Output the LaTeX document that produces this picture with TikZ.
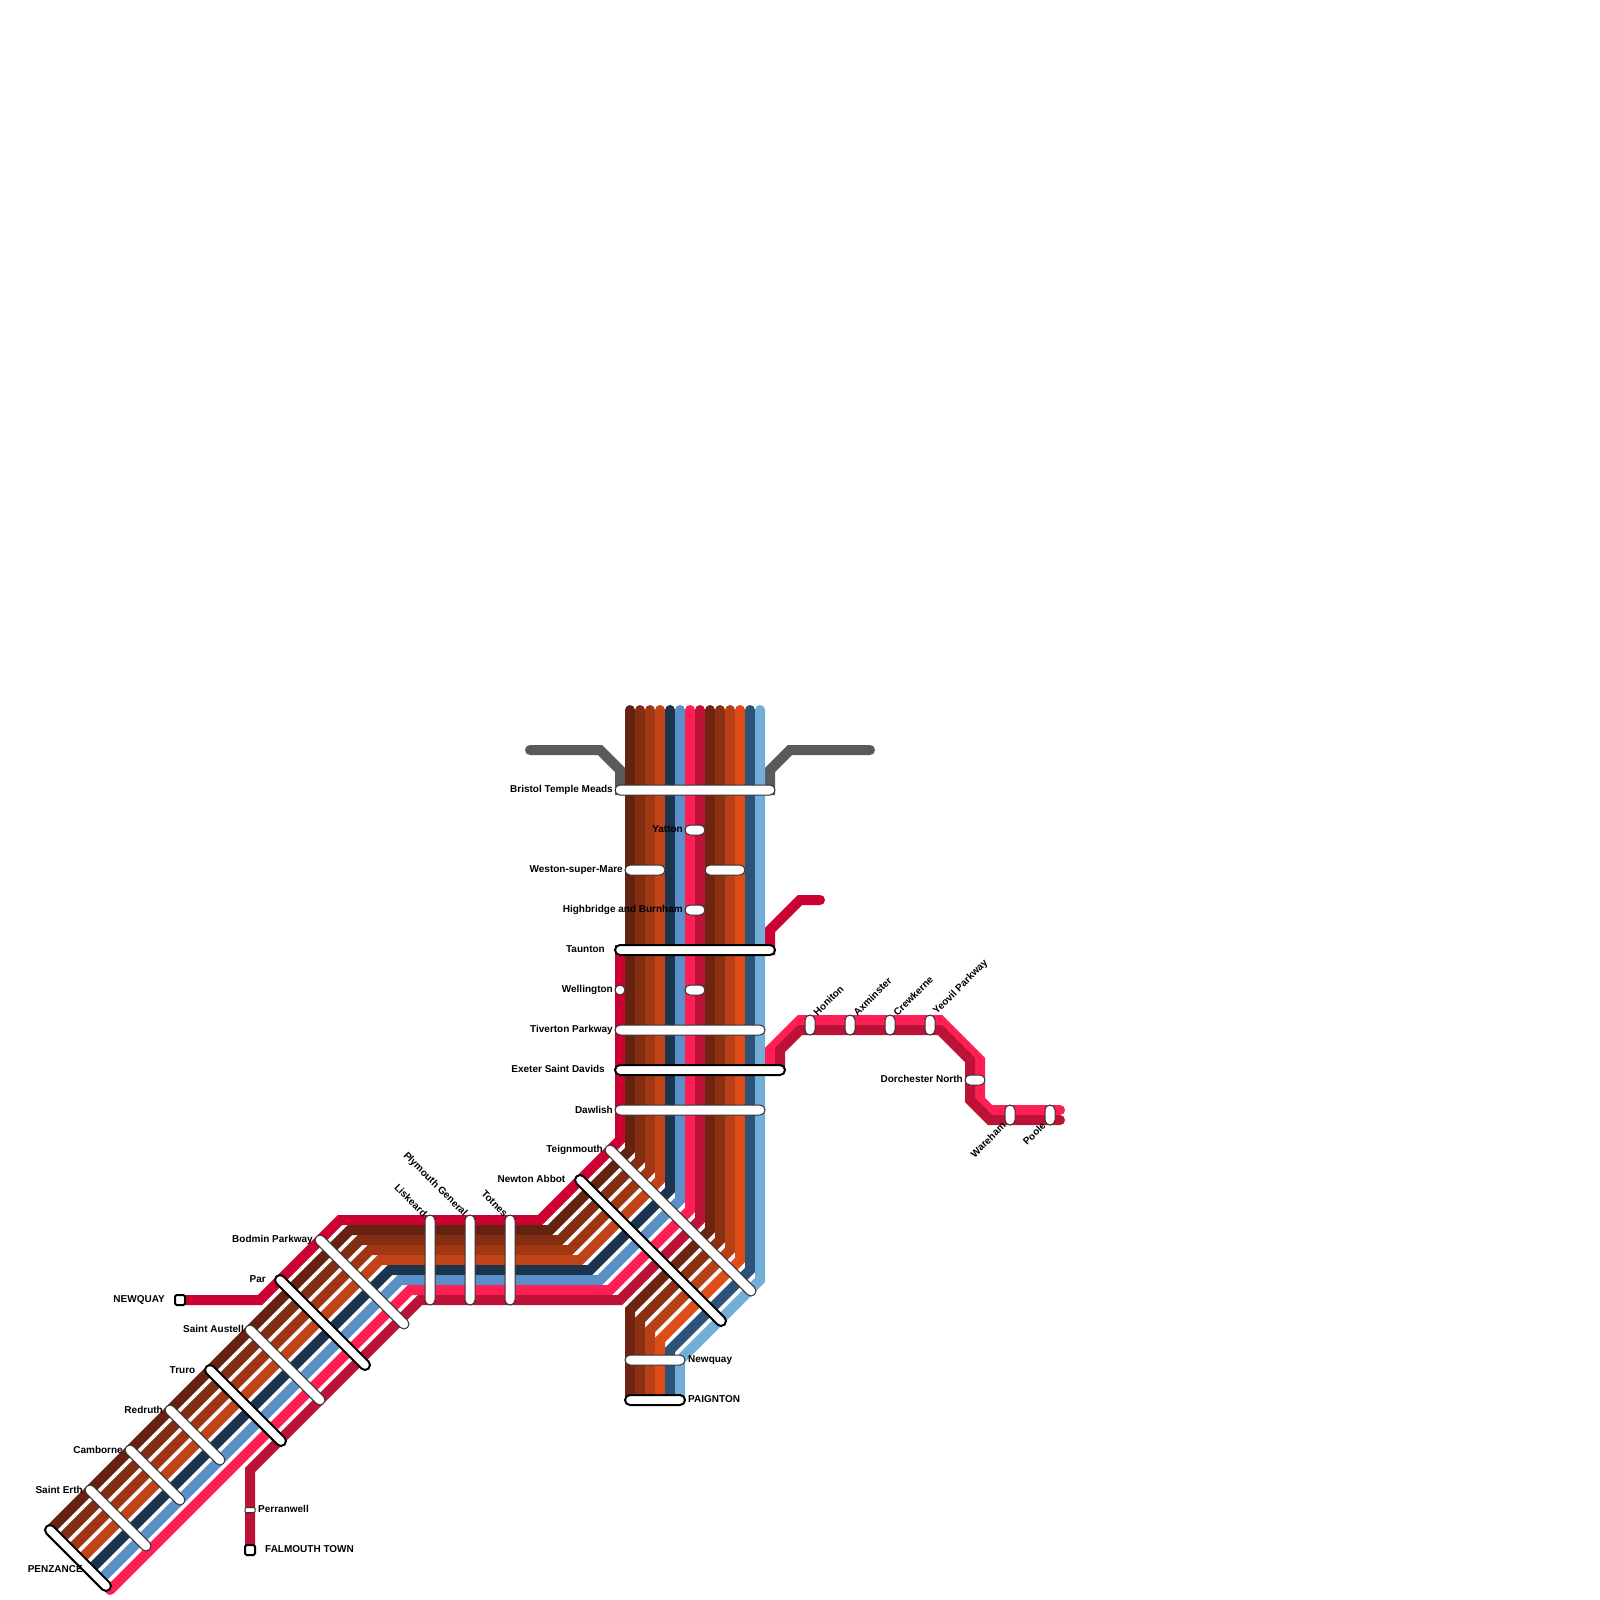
\documentclass[tikz,border=0pt]{standalone}
\usepackage{fontspec}
\usetikzlibrary{shapes.misc}
\setmainfont{Liberation Sans}
\definecolor{crimA}{HTML}{CC0033}
\definecolor{crimB}{HTML}{BC1238}
\definecolor{greyl}{HTML}{5A5A5A}
\definecolor{pinkl}{HTML}{FF1F55}
\definecolor{navyl}{HTML}{1A334F}
\definecolor{bluel}{HTML}{5B8FC8}
\definecolor{brA}{HTML}{662210}
\definecolor{brB}{HTML}{832E12}
\definecolor{brC}{HTML}{A03612}
\definecolor{brD}{HTML}{C24317}
\definecolor{brE}{HTML}{6E2410}
\definecolor{brF}{HTML}{8C3012}
\definecolor{brG}{HTML}{B84016}
\definecolor{brH}{HTML}{DE4D18}
\definecolor{navyk}{HTML}{2B5279}
\definecolor{bluek}{HTML}{72AED8}
\tikzset{
  metro/.style={line width=10pt,line cap=round,line join=miter,miter limit=10},
  stnbase/.style={rounded rectangle,fill=white,draw=black,inner sep=0pt,outer sep=0pt,minimum height=10pt},
  thinstn/.style={stnbase,line width=1pt,draw=black!80},
  heavystn/.style={stnbase,line width=2pt},
  lab/.style={font=\bfseries\fontsize{10}{12}\selectfont,text=black,inner sep=0pt},
  termbox/.style={rectangle,rounded corners=1.5pt,fill=white,draw=black,line width=2pt,inner sep=0pt,minimum width=10pt,minimum height=10pt},
}
\newcommand{\stnbar}[6]{%
  \node[#1,minimum width={veclen(#5-#3,#6-#4)+10},rotate={-atan2(#6-#4,#5-#3)}] (#2) at ({(#3+#5)/2},{(#4+#6)/2}) {};%
}
\begin{document}
\begin{tikzpicture}[x=1pt,y=-1pt]
\useasboundingbox (0,0) rectangle (1600,1600);
\fill[white] (0,0) rectangle (1600,1600);
% lines
\draw[metro,crimA] (180,1300) -- (260,1300) -- (340,1220) -- (540,1220) -- (620,1140) -- (620,950) -- (770,950) -- (770,930) -- (800,900) -- (820,900);
\draw[metro,greyl] (530,750) -- (600,750) -- (620,770) -- (620,790) -- (770,790) -- (770,770) -- (790,750) -- (870,750);
\foreach \k/\c in {1/brA,2/brB,3/brC,4/brD,5/navyl,6/bluel,7/pinkl}{
  \draw[metro,\c] ({620+10*\k},710) -- ({620+10*\k},{1140+10*\k}) -- ({540+10*\k},{1220+10*\k}) -- ({340+10*\k},{1220+10*\k}) -- ({40+10*\k},{1520+10*\k});
}
\draw[metro,crimB] (700,710) -- (700,1220) -- (620,1300) -- (420,1300) -- (250,1470) -- (250,1550);
\foreach \k/\c in {1/brE,2/brF,3/brG,4/brH,5/navyk,6/bluek}{
  \draw[metro,\c] ({700+10*\k},710) -- ({700+10*\k},{1220+10*\k}) -- ({620+10*\k},{1300+10*\k}) -- ({620+10*\k},1400);
}
\draw[metro,pinkl] (770,1070) -- (770,1050) -- (800,1020) -- (940,1020) -- (980,1060) -- (980,1100) -- (990,1110) -- (1060,1110);
\draw[metro,crimB] (780,1070) -- (780,1050) -- (800,1030) -- (940,1030) -- (970,1060) -- (970,1100) -- (990,1120) -- (1060,1120);
% stations on the vertical trunk
\stnbar{thinstn}{bristol}{620}{790}{770}{790}
\stnbar{thinstn}{yatton}{690}{830}{700}{830}
\stnbar{thinstn}{westonA}{630}{870}{660}{870}
\stnbar{thinstn}{westonB}{710}{870}{740}{870}
\stnbar{thinstn}{highbridge}{690}{910}{700}{910}
\stnbar{heavystn}{taunton}{620}{950}{770}{950}
\stnbar{thinstn}{wellingtonA}{620}{990}{620}{990}
\stnbar{thinstn}{wellingtonB}{690}{990}{700}{990}
\stnbar{thinstn}{tiverton}{620}{1030}{760}{1030}
\stnbar{heavystn}{exeter}{620}{1070}{780}{1070}
\stnbar{thinstn}{dawlish}{620}{1110}{760}{1110}
\stnbar{thinstn}{teignmouth}{610}{1150}{751}{1291}
\stnbar{heavystn}{newton}{580}{1180}{721}{1321}
\stnbar{thinstn}{newquayB}{630}{1360}{680}{1360}
\stnbar{heavystn}{paignton}{630}{1400}{680}{1400}
% horizontal section
\stnbar{thinstn}{liskeard}{430}{1220}{430}{1300}
\stnbar{thinstn}{plymouth}{470}{1220}{470}{1300}
\stnbar{thinstn}{totnes}{510}{1220}{510}{1300}
% diagonal section
\stnbar{thinstn}{bodmin}{320}{1240}{404}{1324}
\stnbar{heavystn}{par}{280}{1280}{365}{1365}
\stnbar{thinstn}{austell}{250}{1330}{320}{1400}
\stnbar{heavystn}{truro}{210}{1370}{281}{1441}
\stnbar{thinstn}{redruth}{170}{1410}{220}{1460}
\stnbar{thinstn}{camborne}{130}{1450}{180}{1500}
\stnbar{thinstn}{erth}{90}{1490}{146}{1546}
\stnbar{heavystn}{penzance}{50}{1530}{106}{1586}
% east branch
\stnbar{thinstn}{honiton}{810}{1020}{810}{1030}
\stnbar{thinstn}{axminster}{850}{1020}{850}{1030}
\stnbar{thinstn}{crewkerne}{890}{1020}{890}{1030}
\stnbar{thinstn}{yeovil}{930}{1020}{930}{1030}
\stnbar{thinstn}{dorchester}{970}{1080}{980}{1080}
\stnbar{thinstn}{wareham}{1010}{1110}{1010}{1120}
\stnbar{thinstn}{poole}{1050}{1110}{1050}{1120}
% terminals
\node[termbox] (newquayA) at (180,1300) {};
\node[termbox] (falmouth) at (250,1550) {};
\node[rectangle,rounded corners=1pt,fill=white,draw=black!80,line width=1pt,inner sep=0pt,minimum width=10pt,minimum height=5pt] (perranwell) at (250,1510) {};
% labels
\node[lab,anchor=east] (lbristol) at (613,790) {Bristol Temple Meads};
\node[lab,anchor=east] (lyatton) at (683,829) {Yatton};
\node[lab,anchor=east] (lweston) at (623,870) {Weston-super-Mare};
\node[lab,anchor=east] (lhigh) at (683,910) {Highbridge and Burnham};
\node[lab,anchor=east] (ltaunton) at (605,949) {Taunton};
\node[lab,anchor=east] (lwell) at (613,990) {Wellington};
\node[lab,anchor=east] (ltiv) at (613,1030) {Tiverton Parkway};
\node[lab,anchor=east] (lexe) at (605,1069) {Exeter Saint Davids};
\node[lab,anchor=east] (ldaw) at (613,1110) {Dawlish};
\node[lab,anchor=east] (lteign) at (603,1150) {Teignmouth};
\node[lab,anchor=east] (lnewton) at (565.5,1179) {Newton Abbot};
\node[lab,anchor=west] (lnewq) at (688,1360) {Newquay};
\node[lab,anchor=west] (lpaig) at (688,1399) {PAIGNTON};
\node[lab,anchor=east,rotate=-45] (lliske) at (425.5,1215) {Liskeard};
\node[lab,anchor=east,rotate=-45] (lplym) at (465.5,1215) {Plymouth General};
\node[lab,anchor=east,rotate=-45] (ltot) at (506,1215) {Totnes};
\node[lab,anchor=east] (lbod) at (313,1240) {Bodmin Parkway};
\node[lab,anchor=east] (lpar) at (266,1279) {Par};
\node[lab,anchor=east] (laus) at (244,1329) {Saint Austell};
\node[lab,anchor=east] (ltru) at (195.5,1370) {Truro};
\node[lab,anchor=east] (lred) at (163,1410) {Redruth};
\node[lab,anchor=east] (lcam) at (123,1450) {Camborne};
\node[lab,anchor=east] (lerth) at (83,1490) {Saint Erth};
\node[lab,anchor=east] (lpen) at (83,1569) {PENZANCE};
\node[lab,anchor=east] (lnqa) at (165,1300) {NEWQUAY};
\node[lab,anchor=west] (lper) at (258,1509) {Perranwell};
\node[lab,anchor=west] (lfal) at (265,1549) {FALMOUTH TOWN};
\node[lab,anchor=west,rotate=45] (lhon) at (815,1014) {Honiton};
\node[lab,anchor=west,rotate=45] (lax) at (855,1014) {Axminster};
\node[lab,anchor=west,rotate=45] (lcre) at (895,1014) {Crewkerne};
\node[lab,anchor=west,rotate=45] (lyeo) at (935,1013) {Yeovil Parkway};
\node[lab,anchor=east] (ldor) at (963,1079) {Dorchester North};
\node[lab,anchor=east,rotate=45] (lwar) at (1004,1124) {Wareham};
\node[lab,anchor=east,rotate=45] (lpoo) at (1044,1124) {Poole};
\end{tikzpicture}
\end{document}
